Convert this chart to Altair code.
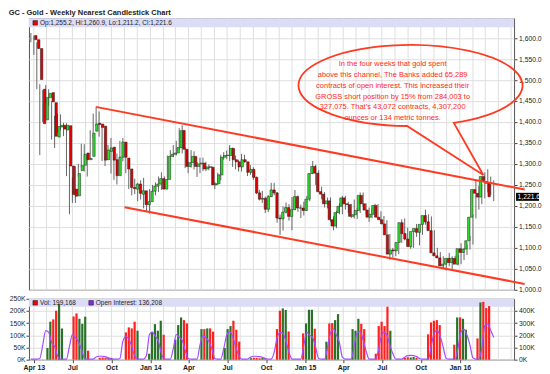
import altair as alt
import pandas as pd

# ---------------- data (weekly, nearest gold futures) ----------------
first_week = "2013-03-25"

opens = [1606, 1596, 1575, 1478, 1405, 1458, 1470, 1446, 1364, 1388,
         1392, 1381, 1391, 1295, 1240, 1224, 1284, 1297, 1326, 1310,
         1318, 1378, 1397, 1395, 1390, 1310, 1330, 1340, 1310, 1272,
         1316, 1352, 1314, 1288, 1244, 1240, 1252, 1228, 1236, 1203,
         1210, 1235, 1247, 1252, 1265, 1240, 1263, 1318, 1323, 1326,
         1339, 1380, 1335, 1294, 1303, 1318, 1294, 1300, 1302, 1288,
         1293, 1292, 1250, 1253, 1274, 1316, 1320, 1320, 1337, 1310,
         1305, 1293, 1310, 1305, 1280, 1287, 1268, 1231, 1216, 1218,
         1192, 1222, 1238, 1231, 1171, 1169, 1185, 1196, 1175, 1191,
         1222, 1195, 1195, 1189, 1216, 1277, 1294, 1278, 1234, 1228,
         1205, 1212, 1167, 1152, 1184, 1199, 1219, 1205, 1203, 1175,
         1179, 1189, 1225, 1205, 1190, 1173, 1180, 1201, 1173, 1167,
         1157, 1131, 1085, 1095, 1093, 1113, 1160, 1134, 1121, 1103,
         1139, 1146, 1137, 1156, 1177, 1162, 1141, 1088, 1081, 1076,
         1057, 1061, 1075, 1065, 1075, 1061, 1098, 1089, 1097, 1117,
         1173, 1239, 1230, 1221, 1270, 1258, 1255.2]

highs = [1612, 1606, 1590, 1490, 1476, 1488, 1478, 1450, 1415, 1420,
         1418, 1398, 1397, 1297, 1267, 1294, 1300, 1348, 1347, 1323,
         1380, 1420, 1434, 1425, 1392, 1375, 1345, 1362, 1330, 1325,
         1355, 1362, 1326, 1296, 1262, 1265, 1255, 1261, 1267, 1215,
         1240, 1250, 1256, 1270, 1280, 1270, 1320, 1333, 1345, 1355,
         1385, 1392, 1340, 1305, 1333, 1330, 1305, 1315, 1315, 1305,
         1299, 1295, 1258, 1279, 1322, 1328, 1332, 1345, 1339, 1320,
         1310, 1324, 1322, 1305, 1297, 1292, 1270, 1238, 1236, 1222,
         1226, 1255, 1255, 1233, 1179, 1199, 1208, 1204, 1221, 1238,
         1225, 1203, 1210, 1224, 1277, 1307, 1298, 1285, 1246, 1233,
         1220, 1220, 1175, 1188, 1206, 1224, 1224, 1210, 1205, 1215,
         1195, 1232, 1232, 1206, 1196, 1194, 1205, 1204, 1187, 1176,
         1166, 1133, 1100, 1099, 1126, 1168, 1170, 1148, 1124, 1142,
         1157, 1147, 1159, 1191, 1180, 1175, 1142, 1100, 1090, 1080,
         1070, 1088, 1080, 1081, 1083, 1111, 1100, 1107, 1128, 1180,
         1263, 1247, 1253, 1280, 1287, 1270, 1260.9]

lows = [1590, 1560, 1478, 1321, 1400, 1445, 1438, 1358, 1338, 1375,
        1380, 1366, 1271, 1180, 1207, 1207, 1270, 1292, 1282, 1270,
        1311, 1361, 1390, 1365, 1307, 1295, 1310, 1277, 1262, 1251,
        1312, 1306, 1278, 1240, 1225, 1228, 1211, 1215, 1194, 1186,
        1182, 1211, 1225, 1233, 1238, 1240, 1262, 1309, 1316, 1320,
        1335, 1325, 1290, 1278, 1291, 1287, 1269, 1278, 1283, 1283,
        1285, 1250, 1240, 1250, 1261, 1310, 1311, 1307, 1293, 1287,
        1282, 1282, 1303, 1271, 1274, 1262, 1228, 1213, 1207, 1183,
        1185, 1221, 1225, 1160, 1131, 1141, 1182, 1165, 1142, 1190,
        1186, 1171, 1177, 1188, 1211, 1276, 1250, 1232, 1216, 1196,
        1194, 1162, 1142, 1147, 1180, 1180, 1191, 1183, 1171, 1170,
        1169, 1183, 1199, 1180, 1162, 1171, 1175, 1170, 1162, 1147,
        1131, 1072, 1077, 1080, 1085, 1112, 1118, 1116, 1098, 1100,
        1126, 1106, 1131, 1155, 1157, 1139, 1085, 1078, 1062, 1052,
        1046, 1056, 1046, 1064, 1058, 1061, 1071, 1083, 1096, 1108,
        1170, 1191, 1204, 1218, 1232, 1226, 1211.2]

closes = [1596, 1575, 1501, 1396, 1458, 1468, 1448, 1366, 1389, 1392,
          1383, 1392, 1295, 1227, 1223, 1277, 1296, 1323, 1310, 1313,
          1373, 1395, 1394, 1387, 1309, 1333, 1338, 1309, 1272, 1316,
          1352, 1316, 1288, 1244, 1241, 1252, 1230, 1236, 1203, 1210,
          1235, 1247, 1252, 1265, 1240, 1263, 1318, 1323, 1326, 1339,
          1379, 1335, 1294, 1303, 1318, 1294, 1300, 1302, 1288, 1293,
          1292, 1250, 1253, 1274, 1316, 1320, 1321, 1337, 1310, 1305,
          1293, 1310, 1305, 1280, 1287, 1268, 1231, 1216, 1218, 1192,
          1222, 1238, 1231, 1171, 1169, 1185, 1196, 1175, 1191, 1222,
          1195, 1195, 1189, 1216, 1277, 1294, 1278, 1234, 1228, 1205,
          1212, 1167, 1152, 1184, 1199, 1219, 1205, 1203, 1175, 1179,
          1189, 1225, 1205, 1190, 1173, 1180, 1201, 1173, 1167, 1157,
          1131, 1085, 1095, 1093, 1113, 1160, 1134, 1121, 1103, 1139,
          1146, 1137, 1156, 1177, 1162, 1141, 1088, 1081, 1076, 1057,
          1061, 1075, 1065, 1075, 1061, 1098, 1089, 1097, 1117, 1173,
          1239, 1230, 1221, 1270, 1258, 1254, 1221.6]

# volume / open interest, in thousands (right-hand scale)
volume_k = [0, 0, 0, 0, 96, 312, 331, 402, 457, 257,
            0, 0, 0, 355, 380, 336, 295, 353, 74, 0,
            0, 0, 15, 18, 15, 18, 15, 0, 0, 0,
            0, 224, 265, 257, 312, 238, 0, 0, 0, 49,
            230, 292, 238, 320, 205, 0, 0, 0, 164, 284,
            347, 325, 298, 0, 0, 0, 0, 251, 251, 257,
            257, 230, 0, 0, 0, 96, 251, 276, 320, 246,
            148, 0, 0, 0, 12, 15, 15, 12, 15, 12,
            0, 0, 0, 251, 402, 421, 408, 232, 0, 0,
            0, 0, 216, 298, 410, 410, 254, 0, 0, 0,
            148, 298, 301, 325, 374, 0, 0, 0, 0, 251,
            238, 336, 295, 251, 0, 0, 0, 49, 276, 312,
            276, 435, 238, 0, 0, 0, 0, 15, 20, 18,
            22, 15, 0, 0, 0, 208, 306, 320, 325, 284,
            0, 0, 0, 0, 123, 347, 347, 336, 246, 0,
            0, 0, 175, 470, 475, 424, 440]

open_interest_k = [5, 5, 5, 10, 120, 238, 225, 140, 110, 30,
                   5, 5, 5, 110, 205, 180, 150, 90, 15, 5,
                   5, 5, 22, 28, 28, 25, 15, 5, 5, 5,
                   10, 150, 189, 170, 110, 30, 5, 5, 5, 40,
                   210, 224, 190, 150, 50, 5, 5, 5, 90, 205,
                   185, 160, 80, 10, 5, 5, 5, 120, 197, 180,
                   150, 90, 10, 5, 5, 90, 200, 230, 190, 110,
                   40, 5, 5, 5, 20, 28, 28, 25, 20, 10,
                   5, 5, 60, 180, 224, 215, 150, 60, 5, 5,
                   5, 5, 120, 224, 200, 180, 100, 10, 5, 5,
                   100, 220, 251, 200, 140, 20, 5, 5, 5, 120,
                   220, 232, 160, 70, 5, 5, 5, 60, 180, 224,
                   200, 120, 50, 5, 5, 5, 20, 33, 35, 33,
                   25, 10, 5, 5, 5, 120, 220, 238, 190, 100,
                   10, 5, 5, 5, 100, 230, 250, 200, 120, 15,
                   5, 5, 100, 280, 292, 240, 183]

# channel drawn on the chart
channel_name = ["upper", "upper", "lower", "lower"]
channel_date = ["2013-08-25T00:00:00", "2016-06-02T00:00:00",
                "2013-11-01T00:00:00", "2016-06-02T00:00:00"]
channel_price = [1436, 1239, 1197, 1014]

callout_lines = [
    "In the four weeks that gold spent",
    "above this channel, The Banks added 65,289",
    "contracts of open interest. This increased their",
    "GROSS short position by 15% from 284,003 to",
    "327,075. That\u2019s 43,072 contracts, 4,307,200",
    "ounces or 134 metric tonnes.",
]
ohlc_text = "Op:1,255.2, Hi:1,260.9, Lo:1,211.2, Cl:1,221.6"
vol_text = "Vol: 199,168"
oi_text = "Open Interest: 136,208"
last_price = 1221.6
last_label = "1,221.6"

price_ticks = [1000, 1050, 1100, 1150, 1200, 1250, 1300, 1350, 1400, 1450, 1500, 1550, 1600]
vol_right_ticks = [0, 100, 200, 300, 400]
vol_left_ticks = [0, 50, 100, 150, 200, 250]

n = len(closes)
for arr in (opens, highs, lows, volume_k, open_interest_k):
    assert len(arr) == n, len(arr)

week_dates = pd.date_range(first_week, periods=n, freq="7D").strftime("%Y-%m-%dT00:00:00")
df = pd.DataFrame({"date": week_dates, "open": opens, "high": highs, "low": lows,
                   "close": closes, "volume": volume_k, "oi": open_interest_k})
month_df = pd.DataFrame({"m": pd.date_range("2013-04-01", "2016-05-01", freq="MS")
                         .strftime("%Y-%m-%dT00:00:00")})
channel_df = pd.DataFrame({"line": channel_name, "date": channel_date, "price": channel_price})
callout_df = pd.DataFrame({"date": ["2015-09-07T12:00:00"], "price": [1487]})
callout_text_df = pd.DataFrame({"date": ["2015-07-26T12:00:00"], "price": [1537],
                                "label": ["\n".join(callout_lines)]})
last_df = pd.DataFrame({"price": [last_price]})
one = pd.DataFrame({"k": [0]})

# ---------------- styling ----------------
W, HM, HV = 486, 272, 61
FONT = "Liberation Sans"
GRID = "#dedede"
BAND = "#dcdcf6"
CANDLE_UP = "#2ee02e"
CANDLE_DN = "#e00000"
VOL_UP = "#2a722a"
VOL_DN = "#ff2020"
ANNOT = "#ff3a22"
PURPLE = "#a24dff"

x_dom = [alt.DateTime(year=2013, month=3, date=20, hours=12),
         alt.DateTime(year=2016, month=5, date=8)]


def xs():
    return alt.Scale(domain=x_dom)


def ps():
    return alt.Scale(domain=[1000, 1647], nice=False, zero=False)


def vs():
    return alt.Scale(domain=[0, 500], nice=False, zero=False)


quarter_ticks = [alt.DateTime(year=y, month=m, date=1)
                 for y in range(2013, 2017) for m in (1, 4, 7, 10)
                 if (2013, 4) <= (y, m) <= (2016, 1)]

p_axis = alt.Axis(orient="right", values=price_ticks, format=",.1f", labelOverlap=False,
                  grid=True, gridColor=GRID, tickSize=3, labelPadding=1.5,
                  labelFontSize=6.8, domain=False, title=None)

up_cond = "datum.close >= datum.open"

# main panel
m_grid = alt.Chart(month_df).mark_rule(color=GRID, strokeWidth=1).encode(
    x=alt.X("m:T", scale=xs(), axis=None))
wicks = alt.Chart(df).mark_rule(color="#666666", strokeWidth=1).encode(
    x=alt.X("date:T", scale=xs(), axis=None),
    y=alt.Y("low:Q", scale=ps(), axis=p_axis, title=None),
    y2="high:Q",
)
bodies = alt.Chart(df).mark_bar(size=2.4, stroke="#1a1a1a", strokeWidth=0.5).encode(
    x=alt.X("date:T", scale=xs(), axis=None),
    y=alt.Y("open:Q", scale=ps(), axis=None),
    y2="close:Q",
    color=alt.condition(up_cond, alt.value(CANDLE_UP), alt.value(CANDLE_DN)),
)
channel = alt.Chart(channel_df).mark_line(color=ANNOT, strokeWidth=2, clip=False).encode(
    x=alt.X("date:T", scale=xs(), axis=None), y=alt.Y("price:Q", scale=ps(), axis=None),
    detail="line:N")

BUBBLE = "M0.384,0.334 A1,0.362 0 1,0 -0.034,0.362 L0.647,0.8 Z"
callout = alt.Chart(callout_df).mark_point(
    shape=BUBBLE, size=50355, filled=False, color=ANNOT, strokeWidth=1.8,
    opacity=1, clip=False).encode(
    x=alt.X("date:T", scale=xs(), axis=None), y=alt.Y("price:Q", scale=ps(), axis=None))
callout_txt = alt.Chart(callout_text_df).mark_text(
    lineBreak="\n", lineHeight=10.7, fontSize=7.5, font=FONT, color="#ff2a1a",
    align="center", baseline="middle").encode(
    x=alt.X("date:T", scale=xs(), axis=None), y=alt.Y("price:Q", scale=ps(), axis=None),
    text="label:N")

band = alt.Chart(one).mark_rect(color=BAND).encode(
    x=alt.value(0), x2=alt.value(W), y=alt.value(0), y2=alt.value(9))
band_sq = alt.Chart(one).mark_rect(color="#ee0000", stroke="#222", strokeWidth=0.6).encode(
    x=alt.value(4), x2=alt.value(8.5), y=alt.value(2.3), y2=alt.value(6.8))
band_txt = alt.Chart(one).mark_text(align="left", baseline="middle", fontSize=6.5,
                                    font=FONT, color="#222").encode(
    x=alt.value(11), y=alt.value(4.8), text=alt.value(ohlc_text))

last_tick = alt.Chart(last_df).mark_tick(orient="horizontal", size=23, thickness=8,
                                          color="#000000", opacity=1, clip=False).encode(
    x=alt.value(W + 13.5), y=alt.Y("price:Q", scale=ps(), axis=None))
last_txt = alt.Chart(last_df).mark_text(align="left", baseline="middle", fontSize=6.8,
                                        font=FONT, color="white", clip=False).encode(
    x=alt.value(W + 3.5), y=alt.Y("price:Q", scale=ps(), axis=None),
    text=alt.value(last_label))

main = alt.layer(m_grid, wicks, bodies, channel, callout, callout_txt, band, band_sq,
                 band_txt, last_tick, last_txt).resolve_scale(
    x="independent", y="independent").properties(width=W, height=HM)

# ---------------- volume panel ----------------
label_expr = ("(month(datum.value) == 0 || (year(datum.value) == 2013 && "
              "month(datum.value) == 3)) ? "
              "timeFormat(datum.value, '%b %y') : timeFormat(datum.value, '%b')")
vol_x_axis = alt.Axis(values=quarter_ticks, grid=False, labelExpr=label_expr,
                      labelFontWeight="bold", labelFontSize=7, labelFlush=False,
                      labelOverlap=False, tickSize=3, labelPadding=1, domain=False,
                      title=None)
v_axis = alt.Axis(orient="right", values=vol_right_ticks, labelExpr="datum.value + 'K'",
                  labelOverlap=False, grid=True, gridColor=GRID, tickSize=3,
                  labelPadding=1.5, labelFontSize=6.8, domain=False, title=None)

v_grid = alt.Chart(month_df).mark_rule(color=GRID, strokeWidth=1).encode(
    x=alt.X("m:T", scale=xs(), axis=vol_x_axis))
vol_bars = alt.Chart(df).transform_filter("datum.volume > 0").mark_bar(size=2.2).encode(
    x=alt.X("date:T", scale=xs(), axis=None),
    y=alt.Y("volume:Q", scale=vs(), axis=v_axis, title=None),
    color=alt.condition(up_cond, alt.value(VOL_UP), alt.value(VOL_DN)),
)
oi_line = alt.Chart(df).mark_line(color=PURPLE, strokeWidth=1.2, interpolate="monotone").encode(
    x=alt.X("date:T", scale=xs(), axis=None),
    y=alt.Y("oi:Q", scale=vs(), axis=None),
)
left_ax = alt.Chart(pd.DataFrame({"v": [0, 250]})).mark_point(opacity=0).encode(
    y=alt.Y("v:Q", scale=alt.Scale(domain=[0, 250], nice=False),
            axis=alt.Axis(orient="left", values=vol_left_ticks, labelOverlap=False,
                          labelExpr="datum.value + 'K'", grid=False, tickSize=3,
                          labelPadding=1, labelFontSize=6.8, domain=False, title=None),
            title=None))

vband = alt.Chart(one).mark_rect(color=BAND).encode(
    x=alt.value(0), x2=alt.value(W), y=alt.value(0), y2=alt.value(8))
vsq1 = alt.Chart(one).mark_rect(color="#ee0000", stroke="#222", strokeWidth=0.6).encode(
    x=alt.value(4), x2=alt.value(8.5), y=alt.value(1.8), y2=alt.value(6.3))
vtxt1 = alt.Chart(one).mark_text(align="left", baseline="middle", fontSize=6.5,
                                 font=FONT, color="#222").encode(
    x=alt.value(11), y=alt.value(4.3), text=alt.value(vol_text))
vsq2 = alt.Chart(one).mark_rect(color="#8a2be2", stroke="#222", strokeWidth=0.6).encode(
    x=alt.value(60), x2=alt.value(64.5), y=alt.value(1.8), y2=alt.value(6.3))
vtxt2 = alt.Chart(one).mark_text(align="left", baseline="middle", fontSize=6.5,
                                 font=FONT, color="#222").encode(
    x=alt.value(67), y=alt.value(4.3), text=alt.value(oi_text))

vol = alt.layer(v_grid, vband, vol_bars, oi_line, vsq1, vtxt1, vsq2, vtxt2,
                left_ax).resolve_scale(x="independent", y="independent").properties(
    width=W, height=HV)

chart = alt.vconcat(main, vol, spacing=0).properties(
    title=alt.TitleParams("GC - Gold - Weekly Nearest Candlestick Chart", anchor="start",
                          fontSize=7.5, fontWeight="bold", font=FONT, color="#222", offset=1),
    padding=0, background="white",
).configure_view(stroke="#555555", strokeWidth=1).configure_axis(
    labelFont=FONT, labelColor="#222222", tickColor="#444444"
).configure_concat(spacing=0)

chart.save("out.html", embed_options={"renderer": "svg", "actions": False})
